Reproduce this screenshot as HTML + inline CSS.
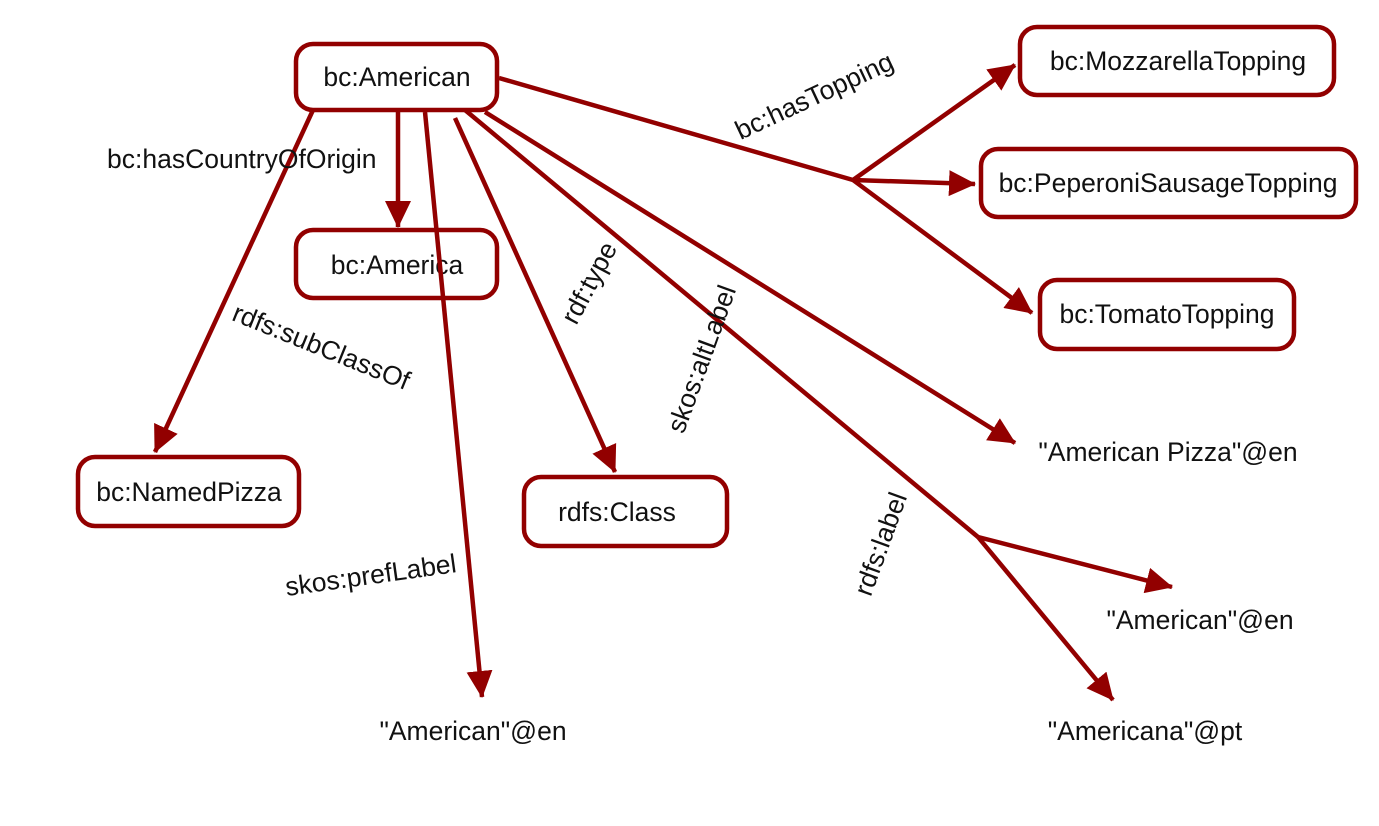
<!DOCTYPE html>
<html><head><style>
html,body{margin:0;padding:0;background:#fff;}
svg text{font-family:"Liberation Sans",sans-serif;font-size:26.5px;fill:#111;}
</style></head><body>
<svg width="1379" height="821" viewBox="0 0 1379 821" xmlns="http://www.w3.org/2000/svg">
<defs>
<marker id="a" markerUnits="userSpaceOnUse" markerWidth="30" markerHeight="26" refX="26" refY="13" orient="auto">
<path d="M0,0 L27,13 L0,26 Z" fill="#920000"/>
</marker>
</defs>
<g stroke="#920000" stroke-width="4.5" fill="#fff">
<rect x="296" y="44" width="201" height="66" rx="17"/>
<rect x="296" y="230" width="201" height="68" rx="17"/>
<rect x="78" y="457" width="221" height="69" rx="17"/>
<rect x="524" y="477" width="203" height="69" rx="17"/>
<rect x="1020" y="27" width="314" height="68" rx="17"/>
<rect x="981" y="149" width="375" height="68" rx="17"/>
<rect x="1040" y="280" width="254" height="69" rx="17"/>
</g>
<g text-anchor="middle">
<text x="397" y="86">bc:American</text>
<text x="397" y="274">bc:America</text>
<text x="189" y="501">bc:NamedPizza</text>
<text x="617" y="521">rdfs:Class</text>
<text x="1178" y="70">bc:MozzarellaTopping</text>
<text x="1168" y="192">bc:PeperoniSausageTopping</text>
<text x="1167" y="323">bc:TomatoTopping</text>
<text x="1168" y="461">"American Pizza"@en</text>
<text x="1200" y="629">"American"@en</text>
<text x="1145" y="740">"Americana"@pt</text>
<text x="473" y="740">"American"@en</text>
</g>
<g stroke="#920000" stroke-width="4.5" fill="none">
<line x1="398" y1="112" x2="398" y2="227" marker-end="url(#a)"/>
<line x1="313" y1="110" x2="155" y2="452" marker-end="url(#a)"/>
<line x1="425" y1="112" x2="482" y2="697" marker-end="url(#a)"/>
<line x1="455" y1="118" x2="615" y2="472" marker-end="url(#a)"/>
<line x1="465" y1="110" x2="978" y2="537"/>
<line x1="978" y1="537" x2="1113" y2="700" marker-end="url(#a)"/>
<line x1="978" y1="537" x2="1172" y2="587" marker-end="url(#a)"/>
<line x1="485" y1="112" x2="1015" y2="443" marker-end="url(#a)"/>
<line x1="499" y1="78" x2="853" y2="180"/>
<line x1="853" y1="180" x2="1015" y2="65" marker-end="url(#a)"/>
<line x1="853" y1="180" x2="975" y2="184" marker-end="url(#a)"/>
<line x1="853" y1="180" x2="1032" y2="313" marker-end="url(#a)"/>
</g>
<text x="107" y="168">bc:hasCountryOfOrigin</text>
<text transform="translate(318,355) rotate(22)" text-anchor="middle">rdfs:subClassOf</text>
<text transform="translate(597,287) rotate(-62)" text-anchor="middle">rdf:type</text>
<text transform="translate(710,362) rotate(-70)" text-anchor="middle">skos:altLabel</text>
<text transform="translate(889,547) rotate(-70)" text-anchor="middle">rdfs:label</text>
<text transform="translate(372,584) rotate(-8)" text-anchor="middle">skos:prefLabel</text>
<text transform="translate(818,104) rotate(-25)" text-anchor="middle">bc:hasTopping</text>
</svg>
</body></html>
